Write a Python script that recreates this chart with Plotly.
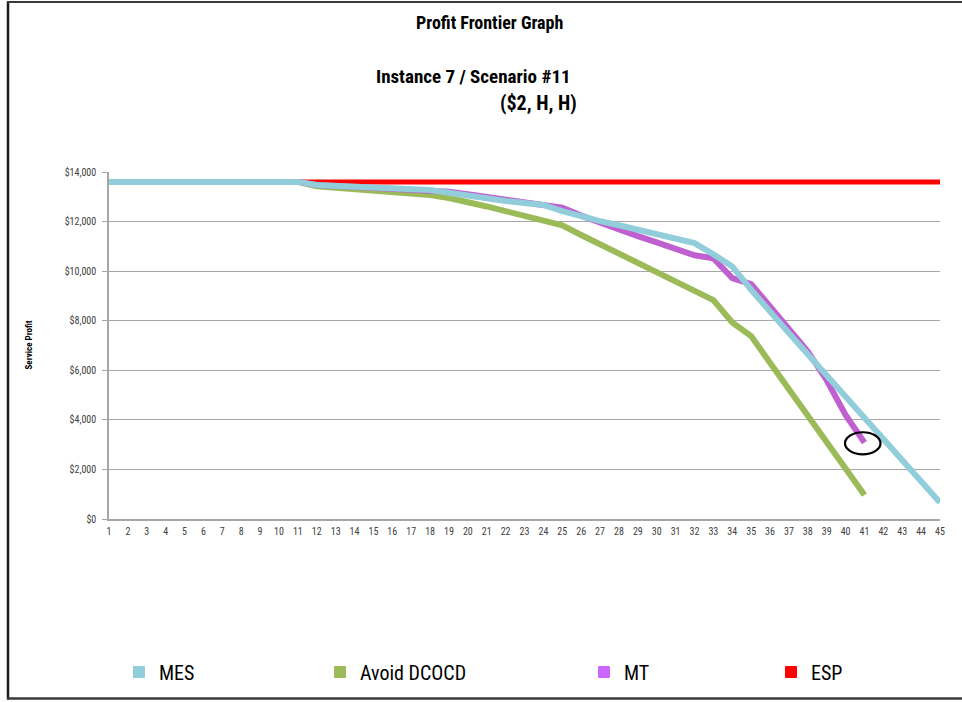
import plotly.graph_objects as go

# ---------------- data ----------------
periods = list(range(1, 46))

mes = [13600, 13600, 13600, 13600, 13600, 13600, 13600, 13600, 13600, 13600,
       13600, 13480, 13440, 13400, 13370, 13330, 13300, 13270, 13160, 13030,
       12920, 12830, 12750, 12670, 12420, 12200, 12020, 11850, 11660, 11480,
       11310, 11130, 10680, 10190, 9250, 8350, 7500, 6650, 5800, 4950,
       4100, 3250, 2400, 1550, 670]

avoid_dcocd = [13600, 13600, 13600, 13600, 13600, 13600, 13600, 13600, 13600, 13600,
               13600, 13420, 13370, 13320, 13260, 13200, 13140, 13075, 12950, 12800,
               12610, 12420, 12230, 12040, 11850, 11460, 11090, 10720, 10340, 9960,
               9570, 9180, 8830, 7930, 7380, 6300, 5230, 4170, 3100, 2030,
               970]

mt = [13600, 13600, 13600, 13600, 13600, 13600, 13600, 13600, 13600, 13600,
      13600, 13480, 13440, 13400, 13370, 13330, 13300, 13280, 13200, 13100,
      13000, 12890, 12780, 12690, 12560, 12240, 11950, 11670, 11410, 11160,
      10900, 10640, 10520, 9720, 9480, 8600, 7690, 6760, 5600, 4200,
      3080]

esp = [13600, 13600, 13600, 13600, 13600, 13600, 13600, 13600, 13600, 13600,
       13600, 13600, 13600, 13600, 13600, 13600, 13600, 13600, 13600, 13600,
       13600, 13600, 13600, 13600, 13600, 13600, 13600, 13600, 13600, 13600,
       13600, 13600, 13600, 13600, 13600, 13600, 13600, 13600, 13600, 13600,
       13600, 13600, 13600, 13600, 13600]

series_names = ["MES", "Avoid DCOCD", "MT", "ESP"]
colors = {"MES": "#92CDDC", "Avoid DCOCD": "#9BBB59", "MT": "#C05FD0", "ESP": "#FF0000"}
legend_colors = {"MES": "#92CDDC", "Avoid DCOCD": "#9BBB59", "MT": "#CC66FF", "ESP": "#FF0000"}

y_ticks = [0, 2000, 4000, 6000, 8000, 10000, 12000, 14000]

FONT = "Liberation Sans Narrow, Roboto Condensed, Liberation Sans, sans-serif"

# ---------------- figure ----------------
W, H = 962, 702
L, R, T, B = 109, 22, 172, 182
pw, ph = W - L - R, H - T - B

def px_x(p):
    return (p - L) / pw

def px_y(p):
    return (H - B - p) / ph

fig = go.Figure()

data = {"ESP": esp, "Avoid DCOCD": avoid_dcocd, "MT": mt, "MES": mes}
for name in ["ESP", "Avoid DCOCD", "MT", "MES"]:
    vals = data[name]
    fig.add_trace(go.Scatter(
        x=periods[:len(vals)], y=vals, mode="lines", name=name,
        line=dict(color=colors[name], width=6 if name != "ESP" else 5),
        showlegend=False, legendgroup=name, hoverinfo="x+y+name",
    ))

# legend entries (square swatches), each in its own legend box
legend_ids = ["legend", "legend2", "legend3", "legend4"]
legend_left_px = [119, 320, 584, 771]
for name, lid in zip(series_names, legend_ids):
    fig.add_trace(go.Scatter(
        x=[None], y=[None], mode="markers", name=name, legend=lid,
        legendgroup=name,
        marker=dict(symbol="square", size=11, color=legend_colors[name],
                    line=dict(color=legend_colors[name], width=1)),
    ))

legend_layout = {}
for lid, lpx in zip(legend_ids, legend_left_px):
    legend_layout[lid] = dict(
        x=px_x(lpx), xanchor="left", y=px_y(672), yanchor="middle",
        orientation="h", bgcolor="rgba(0,0,0,0)",
        font=dict(family=FONT, size=20, color="#000000"),
    )

annotations = [
    dict(text="<b>Profit Frontier Graph</b>", x=px_x(489), y=px_y(22),
         xref="paper", yref="paper", showarrow=False, xanchor="center", yanchor="middle",
         font=dict(family=FONT, size=18, color="#000")),
    dict(text="<b>Instance 7 / Scenario #11</b>", x=px_x(473), y=px_y(76),
         xref="paper", yref="paper", showarrow=False, xanchor="center", yanchor="middle",
         font=dict(family=FONT, size=19, color="#000")),
    dict(text="<b>($2, H, H)</b>", x=px_x(538), y=px_y(103),
         xref="paper", yref="paper", showarrow=False, xanchor="center", yanchor="middle",
         font=dict(family=FONT, size=20, color="#000")),
    dict(text="<b>Service Profit</b>", x=px_x(28), y=0.5, textangle=-90,
         xref="paper", yref="paper", showarrow=False, xanchor="center", yanchor="middle",
         font=dict(family=FONT, size=9, color="#000")),
]

# ellipse around the end of the MT curve
mt_end_x = periods[len(mt) - 1]
mt_end_y = mt[-1]
shapes = [
    dict(type="circle", xref="x", yref="y",
         x0=mt_end_x - 1.03, x1=mt_end_x + 0.85,
         y0=mt_end_y - 470, y1=mt_end_y + 420,
         line=dict(color="#000000", width=2.2)),
    # white strip along the right edge
    dict(type="rect", xref="paper", yref="paper", layer="above",
         x0=px_x(950), x1=px_x(963), y0=px_y(-1), y1=px_y(703),
         fillcolor="white", line=dict(width=0)),
    # page frame
    dict(type="line", xref="paper", yref="paper", x0=px_x(8), x1=px_x(8),
         y0=px_y(1), y1=px_y(701), line=dict(color="#1a1a1a", width=2.5)),
    dict(type="line", xref="paper", yref="paper", x0=px_x(7), x1=px_x(962),
         y0=px_y(1.5), y1=px_y(1.5), line=dict(color="#3a3a3a", width=2)),
    dict(type="line", xref="paper", yref="paper", x0=px_x(7), x1=px_x(962),
         y0=px_y(700), y1=px_y(700), line=dict(color="#3a3a3a", width=2.5)),
]

fig.update_layout(
    width=W, height=H,
    margin=dict(l=L, r=R, t=T, b=B, pad=0),
    paper_bgcolor="white", plot_bgcolor="white",
    font=dict(family=FONT, color="#404040"),
    annotations=annotations, shapes=shapes,
    **legend_layout,
)

fig.update_xaxes(
    range=[1, 45], tickmode="array", tickvals=periods,
    ticktext=[str(p) for p in periods],
    showgrid=False, zeroline=False,
    showline=True, linecolor="#A6A6A6", linewidth=1.5,
    ticks="", ticklabelstandoff=2,
    tickfont=dict(family=FONT, size=10, color="#404040"),
)
fig.update_yaxes(
    range=[0, 14000], tickmode="array", tickvals=y_ticks,
    ticktext=["${:,}".format(v) for v in y_ticks],
    showgrid=True, gridcolor="#A6A6A6", gridwidth=1,
    zeroline=False, showline=True, linecolor="#A6A6A6", linewidth=1.5,
    ticks="outside", ticklen=5, tickcolor="#A6A6A6",
    ticklabelstandoff=4,
    tickfont=dict(family=FONT, size=10, color="#404040"),
)

fig.write_html(
    "out.html",
    config={"displayModeBar": False},
    post_script=(
        "document.body.style.margin='0px';"
        "document.body.style.overflow='hidden';"
        "document.documentElement.style.overflow='hidden';"
    ),
)
